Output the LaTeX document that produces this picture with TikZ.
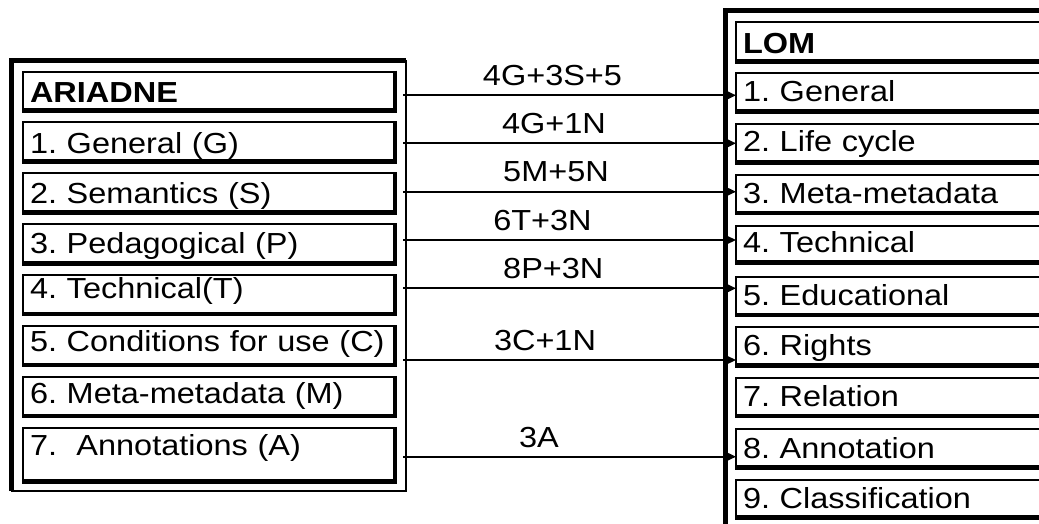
\documentclass[tikz,border=0pt]{standalone}
\usepackage{fontspec}
\newfontfamily\arial[FakeStretch=1.12]{Liberation Sans}
\usetikzlibrary{arrows.meta}
\begin{document}
\begin{tikzpicture}[x=1pt,y=-1pt,
  font=\arial\fontsize{29}{34}\selectfont\frenchspacing,
  obox/.style={draw, line width=2pt, outer sep=0pt, inner sep=0pt, anchor=north west},
  abox/.style={draw, line width=2pt, outer sep=0pt, inner ysep=0pt, inner xsep=7.2pt,
    anchor=north west, align=left, text width=357.8pt},
  lbox/.style={draw, line width=2pt, outer sep=0pt, inner ysep=0pt, inner xsep=7pt,
    anchor=north west, align=left, text width=320pt},
  shadowedge/.style={line width=4.6pt},
  outeredge/.style={line width=5pt},
  conn/.style={line width=1.7pt, -{Triangle[length=12pt,width=11pt]}},
  lab/.style={anchor=base, inner sep=0pt}]
\useasboundingbox (0,0) rectangle (1039,523);
\fill[white] (0,0) rectangle (1039,523);
\clip (0,0) rectangle (1039,523);

% ARIADNE side
\node[obox, minimum width=394.5pt, minimum height=430.5pt] (oa) at (11.5,60.5) {};
\node[abox, text height=30.5pt, text depth=8.5pt]  (a0) at (22.8,71.5)  {\mbox{\bfseries ARIADNE}};
\node[abox, text height=30.6pt, text depth=8.4pt]  (a1) at (22.8,122.4) {\mbox{1. General (G)}};
\node[abox, text height=29.7pt, text depth=9.3pt]  (a2) at (22.8,173.3) {\mbox{2. Semantics (S)}};
\node[abox, text height=28.8pt, text depth=10.2pt] (a3) at (22.8,224.2) {\mbox{3. Pedagogical (P)}};
\node[abox, text height=23.2pt, text depth=15.8pt] (a4) at (22.8,275.1) {\mbox{4. Technical(T)}};
\node[abox, text height=25.7pt, text depth=13.3pt] (a5) at (22.8,326)   {\mbox{5. Conditions for use (C)}};
\node[abox, text height=26.4pt, text depth=12.6pt] (a6) at (22.8,376.9) {\mbox{6. Meta-metadata (M)}};
\node[abox, text height=27.2pt, text depth=26.5pt] (a7) at (22.8,427.8) {\mbox{7.\ \ Annotations (A)}};

% LOM side
\node[obox, minimum width=360pt, minimum height=540pt] (ol) at (725.2,10.8) {};
\node[lbox, text height=31.3pt, text depth=8.4pt]  (l0) at (736,22)    {\mbox{\bfseries LOM}};
\node[lbox, text height=28.8pt, text depth=9.8pt]  (l1) at (736,72.9)  {\mbox{1. General}};
\node[lbox, text height=27.9pt, text depth=10.8pt] (l2) at (736,123.8) {\mbox{2. Life cycle}};
\node[lbox, text height=28.6pt, text depth=9.7pt]  (l3) at (736,174.7) {\mbox{3. Meta-metadata}};
\node[lbox, text height=26.9pt, text depth=10pt]   (l4) at (736,225.6) {\mbox{4. Technical}};
\node[lbox, text height=28.5pt, text depth=10pt]   (l5) at (736,276.5) {\mbox{5. Educational}};
\node[lbox, text height=27.6pt, text depth=10.5pt] (l6) at (736,327.4) {\mbox{6. Rights}};
\node[lbox, text height=28.4pt, text depth=9.3pt]  (l7) at (736,378.3) {\mbox{7. Relation}};
\node[lbox, text height=29.1pt, text depth=9.2pt]  (l8) at (736,429.2) {\mbox{8. Annotation}};
\node[lbox, text height=28.2pt, text depth=9.2pt]  (l9) at (736,480.1) {\mbox{9. Classification}};

% thick shadow edges (right and bottom) of the inner boxes
\foreach \n in {a0,a1,a2,a3,a4,a5,a6,a7,l0,l1,l2,l3,l4,l5,l6,l7,l8,l9}
  \draw[shadowedge] ([yshift=1pt]\n.north east) -- (\n.south east) -- ([xshift=-1pt]\n.south west);
% thick left and top edges of the outer boxes
\foreach \n in {oa,ol}
  \draw[outeredge] (\n.south west) -- (\n.north west) -- (\n.north east);

% connectors
\coordinate (s1) at (403.3,95.3);
\coordinate (s2) at (403.3,143.3);
\coordinate (s3) at (403.3,191.7);
\coordinate (s4) at (403.3,240);
\coordinate (s5) at (403.3,288.3);
\coordinate (s6) at (403.3,360);
\coordinate (s7) at (403.3,456.7);
\draw[conn] (s1) -- (s1 -| l1.west);
\draw[conn] (s2) -- (s2 -| l2.west);
\draw[conn] (s3) -- (s3 -| l3.west);
\draw[conn] (s4) -- (s4 -| l4.west);
\draw[conn] (s5) -- (s5 -| l5.west);
\draw[conn] (s6) -- (s6 -| l6.west);
\draw[conn] (s7) -- (s7 -| l8.west);

% connector labels
\node[lab] (t1) at (552.5,85)   {4G+3S+5};
\node[lab] (t2) at (554,133.3)  {4G+1N};
\node[lab] (t3) at (556,181.7)  {5M+5N};
\node[lab] (t4) at (542.5,230)  {6T+3N};
\node[lab] (t5) at (553.3,278.3){8P+3N};
\node[lab] (t6) at (545,350.7)  {3C+1N};
\node[lab] (t7) at (539,447)    {3A};
\end{tikzpicture}
\end{document}
